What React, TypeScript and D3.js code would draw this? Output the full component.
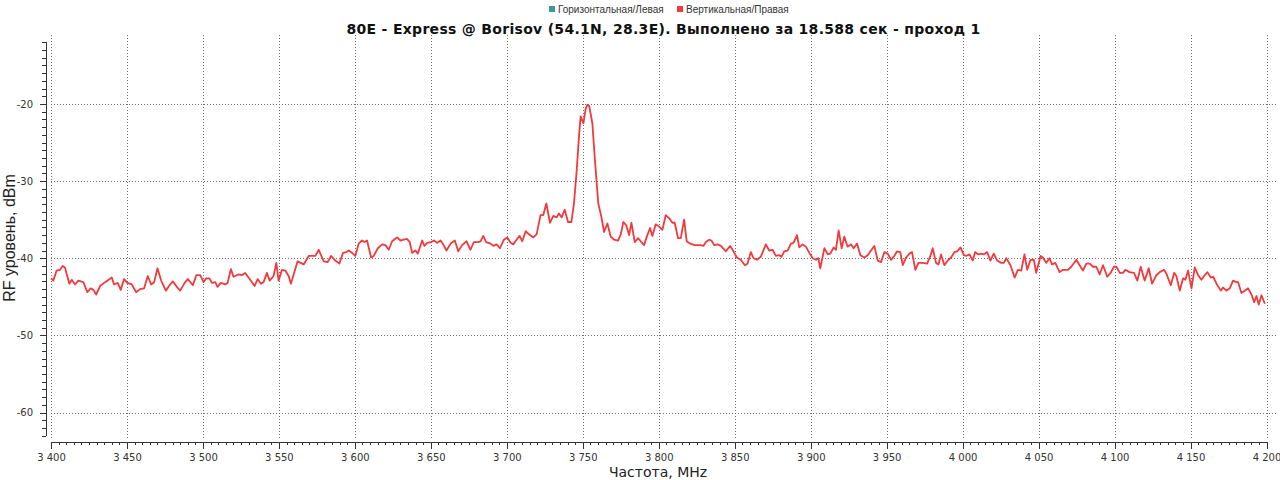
import { useEffect, useRef } from 'react'
import * as d3 from 'd3'

const title = '80E - Express @ Borisov (54.1N, 28.3E). Выполнено за 18.588 сек - проход 1'
const seriesNames = ['Горизонтальная/Левая', 'Вертикальная/Правая']
const seriesColors = ['#3a9c98', '#f23a3d']
const xLabel = 'Частота, MHz'
const yLabel = 'RF уровень, dBm'
const xTicks = [3400, 3450, 3500, 3550, 3600, 3650, 3700, 3750, 3800, 3850, 3900, 3950, 4000, 4050, 4100, 4150, 4200]
const yTicks = [-20, -30, -40, -50, -60]

// sweep of the vertical/right channel (the horizontal one is empty)
const freqMHz = [
  3400, 3401.5, 3403.7, 3405.9, 3407.7, 3409.2, 3412.1, 3413.6, 3415.8, 3418.0,
  3421.3, 3423.9, 3426.1, 3427.9, 3429.7, 3432.3, 3435.6, 3440.0, 3441.5, 3443.9,
  3445.9, 3448.1, 3450.3, 3453.2, 3456.0, 3458.6, 3461.3, 3463.7, 3465.9, 3467.9,
  3470.1, 3472.5, 3475.6, 3478.0, 3480.2, 3482.8, 3485.0, 3488.3, 3490.1, 3493.4,
  3495.6, 3498.2, 3500.4, 3502.1, 3504.3, 3505.9, 3508.1, 3509.6, 3511.8, 3514.7,
  3516.2, 3518.4, 3520.1, 3523.4, 3525.6, 3527.8, 3531.1, 3534.0, 3536.0, 3538.2,
  3539.9, 3542.1, 3543.9, 3546.5, 3548.3, 3549.8, 3552.0, 3554.2, 3556.4, 3557.9,
  3562.3, 3566.3, 3569.6, 3574.0, 3576.2, 3579.5, 3582.1, 3584.3, 3587.1, 3589.8,
  3592.2, 3594.4, 3596.0, 3598.1, 3600.3, 3602.5, 3604.7, 3606.3, 3608.0, 3610.7,
  3612.4, 3615.1, 3617.9, 3620.1, 3622.3, 3624.5, 3627.8, 3630.0, 3632.2, 3634.4,
  3636.1, 3637.7, 3639.9, 3641.4, 3644.3, 3645.8, 3647.6, 3650.2, 3652.0, 3654.2,
  3656.4, 3658.1, 3660.3, 3663.0, 3665.8, 3668.0, 3670.6, 3673.5, 3676.1, 3678.3,
  3681.0, 3682.7, 3684.5, 3686.4, 3689.3, 3691.1, 3693.3, 3695.5, 3698.1, 3700.3,
  3702.5, 3704.2, 3706.4, 3708.4, 3710.2, 3712.4, 3714.6, 3717.4, 3719.6, 3722.2,
  3724.0, 3726.0, 3728.4, 3730.6, 3732.8, 3734.3, 3736.1, 3738.1, 3740.3, 3742.5,
  3744.2, 3746.0, 3747.5, 3748.6, 3750.4, 3751.9, 3753.0, 3754.3, 3756.3, 3758.0,
  3760.2, 3762.2, 3764.0, 3766.2, 3768.4, 3770.6, 3773.2, 3775.0, 3776.7, 3778.5,
  3780.5, 3782.0, 3784.2, 3786.4, 3788.1, 3790.3, 3792.5, 3794.3, 3795.8, 3798.0,
  3800.2, 3802.4, 3804.6, 3806.8, 3809.0, 3810.5, 3812.7, 3814.5, 3816.7, 3818.4,
  3820.6, 3823.7, 3827.7, 3829.4, 3831.0, 3833.2, 3834.7, 3836.5, 3838.7, 3840.9,
  3844.2, 3847.0, 3849.2, 3851.4, 3854.0, 3856.7, 3858.4, 3860.6, 3862.4, 3864.6,
  3867.2, 3870.5, 3872.7, 3874.9, 3877.1, 3879.3, 3880.8, 3882.6, 3884.8, 3887.0,
  3888.7, 3891.0, 3892.5, 3894.7, 3896.9, 3899.1, 3901.3, 3903.5, 3905.0, 3906.3,
  3909.0, 3911.2, 3912.9, 3915.1, 3916.6, 3918.4, 3920.4, 3922.1, 3924.3, 3926.5,
  3928.3, 3930.5, 3932.7, 3935.3, 3937.5, 3939.7, 3941.9, 3944.1, 3946.3, 3948.5,
  3950.7, 3952.9, 3955.1, 3956.8, 3959.0, 3960.6, 3962.8, 3965.0, 3966.7, 3968.9,
  3970.9, 3973.8, 3976.6, 3978.8, 3980.3, 3982.5, 3984.1, 3985.8, 3988.0, 3990.2,
  3992.4, 3994.6, 3996.4, 3998.6, 4000.8, 4002.3, 4004.5, 4006.7, 4008.2, 4010.4,
  4012.2, 4014.0, 4016.1, 4018.3, 4020.5, 4022.7, 4025.4, 4027.1, 4028.7, 4031.5,
  4034.2, 4036.4, 4038.6, 4040.7, 4042.5, 4044.7, 4046.9, 4048.4, 4051.3, 4052.8,
  4055.0, 4057.2, 4058.8, 4061.0, 4063.8, 4066.0, 4069.3, 4071.5, 4074.8, 4077.0,
  4079.2, 4081.4, 4083.6, 4085.8, 4088.0, 4090.2, 4092.4, 4095.2, 4097.4, 4099.6,
  4101.2, 4103.4, 4105.5, 4107.1, 4109.9, 4112.8, 4115.0, 4117.2, 4119.8, 4122.5,
  4124.7, 4127.5, 4129.7, 4132.6, 4134.1, 4137.0, 4139.2, 4140.7, 4142.9, 4145.1,
  4146.6, 4148.4, 4150.6, 4152.8, 4155.0, 4157.2, 4158.9, 4161.1, 4163.3, 4164.9,
  4167.1, 4169.9, 4171.4, 4173.6, 4175.8, 4178.0, 4180.2, 4181.3, 4183.5, 4185.7,
  4187.9, 4190.1, 4191.9, 4193.4, 4194.9, 4196.7, 4198.9
]

const levelDbm = [
  -42.6, -42.9, -41.6, -41.5, -41.0, -41.2, -43.3, -42.8, -43.4, -42.9,
  -43.1, -44.4, -43.9, -44.1, -44.7, -43.6, -43.1, -42.5, -43.4, -43.2,
  -44.1, -42.7, -43.2, -43.4, -44.4, -44.0, -43.9, -42.3, -43.4, -43.1,
  -41.3, -42.9, -44.2, -43.5, -43.0, -43.7, -44.2, -43.1, -42.7, -43.5,
  -42.2, -42.2, -43.1, -42.6, -42.6, -43.2, -43.1, -43.7, -43.2, -43.4,
  -43.2, -41.4, -42.4, -42.1, -42.2, -41.9, -42.8, -43.6, -42.7, -43.3,
  -43.1, -41.9, -42.9, -42.3, -40.6, -42.9, -41.5, -41.6, -42.3, -43.3,
  -40.4, -40.8, -39.7, -39.7, -38.9, -40.4, -40.5, -39.7, -40.3, -40.7,
  -39.3, -39.2, -39.0, -39.3, -39.7, -38.1, -37.7, -37.9, -37.7, -39.9,
  -39.7, -38.7, -38.2, -38.3, -38.9, -37.8, -37.3, -37.7, -37.6, -37.5,
  -37.9, -39.3, -39.0, -39.4, -37.7, -38.4, -38.0, -37.9, -37.7, -38.0,
  -37.7, -38.2, -39.0, -38.1, -37.7, -39.1, -38.3, -37.8, -38.9, -37.9,
  -37.9, -37.8, -37.1, -37.9, -38.1, -38.4, -38.2, -38.7, -37.6, -37.3,
  -38.0, -38.2, -37.6, -37.1, -37.8, -36.5, -36.9, -37.3, -36.9, -34.4,
  -34.4, -32.9, -35.4, -34.5, -34.7, -34.2, -34.7, -33.7, -35.3, -35.3,
  -32.9, -28.6, -24.2, -21.6, -22.5, -20.6, -20.1, -20.3, -22.5, -27.3,
  -32.9, -34.6, -36.6, -35.5, -37.2, -37.6, -37.7, -36.9, -35.3, -35.7,
  -37.0, -35.4, -37.9, -37.4, -37.8, -38.3, -37.0, -36.1, -37.1, -35.6,
  -35.9, -36.3, -34.4, -34.8, -35.4, -35.4, -37.4, -37.4, -35.0, -37.8,
  -38.1, -38.3, -38.3, -38.4, -37.9, -37.6, -37.7, -38.3, -38.2, -38.4,
  -39.1, -38.4, -39.1, -39.9, -40.2, -40.9, -40.7, -39.2, -40.0, -40.2,
  -39.8, -38.2, -39.0, -38.9, -39.7, -39.6, -39.8, -39.1, -39.0, -38.1,
  -38.0, -37.0, -38.6, -38.2, -38.5, -39.3, -40.0, -40.2, -40.0, -41.3,
  -38.7, -39.5, -39.4, -38.6, -38.9, -36.4, -38.7, -37.2, -38.5, -38.2,
  -38.7, -38.1, -39.6, -39.9, -39.6, -39.0, -38.4, -40.3, -40.5, -39.2,
  -39.4, -40.2, -39.7, -39.1, -39.2, -40.9, -39.9, -39.4, -39.2, -41.5,
  -40.6, -40.6, -40.7, -39.7, -38.7, -40.6, -40.8, -39.5, -40.9, -40.3,
  -39.9, -39.2, -39.1, -38.6, -39.6, -39.7, -39.5, -40.3, -39.2, -39.5,
  -39.4, -39.5, -39.2, -40.3, -39.4, -40.3, -40.6, -40.6, -40.0, -40.9,
  -42.5, -41.5, -41.6, -39.5, -41.5, -40.2, -40.2, -41.9, -39.7, -39.9,
  -40.6, -40.0, -40.8, -40.6, -41.8, -41.5, -41.5, -41.1, -40.2, -40.9,
  -41.6, -40.7, -40.7, -41.1, -41.1, -42.1, -40.9, -42.4, -41.9, -41.1,
  -41.1, -41.9, -41.9, -41.5, -41.8, -41.9, -42.9, -41.1, -42.9, -41.3,
  -43.3, -42.2, -41.8, -41.5, -42.0, -43.5, -41.9, -42.3, -44.2, -42.6,
  -42.8, -41.6, -43.9, -41.2, -42.2, -42.8, -42.3, -41.8, -42.5, -42.4,
  -43.3, -44.2, -43.8, -44.2, -43.9, -42.9, -43.1, -43.1, -44.5, -44.2,
  -43.9, -44.7, -45.7, -44.9, -46.0, -44.8, -45.9
]

export default function App() {
  const svgRef = useRef<SVGSVGElement>(null)

  useEffect(() => {
    if (!svgRef.current) return
    const svg = d3.select(svgRef.current)
    svg.selectAll('*').remove()

    const plot = { left: 51, right: 1278, top: 35, bottom: 438 }
    const x = d3.scaleLinear().domain([3400, 4200]).range([51, 1266.5])
    const y = d3.scaleLinear().domain([-60, -20]).range([412.5, 104])

    const fmt = d3.formatLocale({ decimal: '.', thousands: ' ', grouping: [3], currency: ['', ''] }).format(',d')
    const font = "'DejaVu Sans', sans-serif"

    svg.append('rect').attr('width', 1280).attr('height', 480).attr('fill', '#fff')

    // grid
    const grid = svg.append('g')
      .attr('stroke', '#707070')
      .attr('stroke-width', 1)
      .attr('stroke-dasharray', '1,2')
      .attr('shape-rendering', 'crispEdges')
    grid.selectAll('.gx')
      .data(xTicks)
      .enter()
      .append('line')
      .attr('x1', d => Math.round(x(d)) + 0.5)
      .attr('x2', d => Math.round(x(d)) + 0.5)
      .attr('y1', plot.top)
      .attr('y2', plot.bottom)
    grid.selectAll('.gy')
      .data(yTicks)
      .enter()
      .append('line')
      .attr('x1', plot.left)
      .attr('x2', plot.right)
      .attr('y1', d => Math.round(y(d)) + 0.5)
      .attr('y2', d => Math.round(y(d)) + 0.5)

    // x axis (offset below the plot)
    const xAxisY = 442
    const xMinor = svg.append('g')
      .attr('transform', `translate(0,${xAxisY})`)
      .call(d3.axisBottom(x).tickValues(d3.range(3400, 4201, 5)).tickSize(3).tickSizeOuter(0).tickFormat(() => ''))
    const xMajor = svg.append('g')
      .attr('transform', `translate(0,${xAxisY})`)
      .call(d3.axisBottom(x).tickValues(xTicks).tickSize(7).tickSizeOuter(0).tickPadding(5).tickFormat(d => fmt(d as number)))
    xMinor.select('.domain').remove()

    // y axis (offset left of the plot)
    const yAxisX = 46
    const yMinor = svg.append('g')
      .attr('transform', `translate(${yAxisX},0)`)
      .call(d3.axisLeft(y).tickValues(d3.range(-63, -11, 1)).tickSize(4).tickSizeOuter(0).tickFormat(() => ''))
    yMinor.select('.domain').attr('d', `M0.5,${y(-63)}V${y(-12)}`)
    const yMajor = svg.append('g')
      .attr('transform', `translate(${yAxisX},0)`)
      .call(d3.axisLeft(y).tickValues(yTicks).tickSize(6).tickSizeOuter(0).tickPadding(7).tickFormat(d => String(d)))
    yMajor.select('.domain').remove()

    svg.selectAll('.domain, .tick line')
      .attr('stroke', '#333')
      .attr('shape-rendering', 'crispEdges')
    for (const g of [xMajor, yMajor]) {
      g.attr('font-family', font).attr('font-size', 10)
      g.selectAll('text').attr('fill', '#333')
    }

    // series
    const data = freqMHz.map((f, i) => ({ f, v: levelDbm[i] }))
    const line = d3.line<{ f: number; v: number }>()
      .x(d => x(d.f))
      .y(d => y(d.v))

    svg.append('path')
      .datum(data)
      .attr('fill', 'none')
      .attr('stroke', seriesColors[1])
      .attr('stroke-width', 1.8)
      .attr('stroke-linejoin', 'round')
      .attr('d', line)

    // title
    svg.append('text')
      .attr('x', 663.5)
      .attr('y', 34)
      .attr('text-anchor', 'middle')
      .attr('font-family', font)
      .attr('font-weight', 'bold')
      .attr('font-size', 14)
      .attr('letter-spacing', 0.3)
      .attr('fill', '#111')
      .text(title)

    // legend
    const legendX = [549, 677]
    const lg = svg.append('g')
      .attr('font-family', "'Liberation Sans', Arial, sans-serif")
      .attr('font-size', 10)
      .attr('fill', '#333')
    seriesNames.forEach((name, i) => {
      lg.append('rect')
        .attr('x', legendX[i])
        .attr('y', 6)
        .attr('width', 6)
        .attr('height', 6)
        .attr('fill', seriesColors[i])
      lg.append('text')
        .attr('x', legendX[i] + 9)
        .attr('y', 12.5)
        .text(name)
    })

    // axis titles
    svg.append('text')
      .attr('x', 658)
      .attr('y', 477)
      .attr('text-anchor', 'middle')
      .attr('font-family', font)
      .attr('font-size', 14)
      .attr('fill', '#222')
      .text(xLabel)

    svg.append('text')
      .attr('transform', 'translate(15,238) rotate(-90)')
      .attr('text-anchor', 'middle')
      .attr('font-family', "'Liberation Sans', Arial, sans-serif")
      .attr('font-size', 16)
      .attr('fill', '#222')
      .text(yLabel)
  }, [])

  return (
    <svg
      ref={svgRef}
      width={1280}
      height={480}
      style={{ position: 'absolute', left: 0, top: 0 }}
    />
  )
}
